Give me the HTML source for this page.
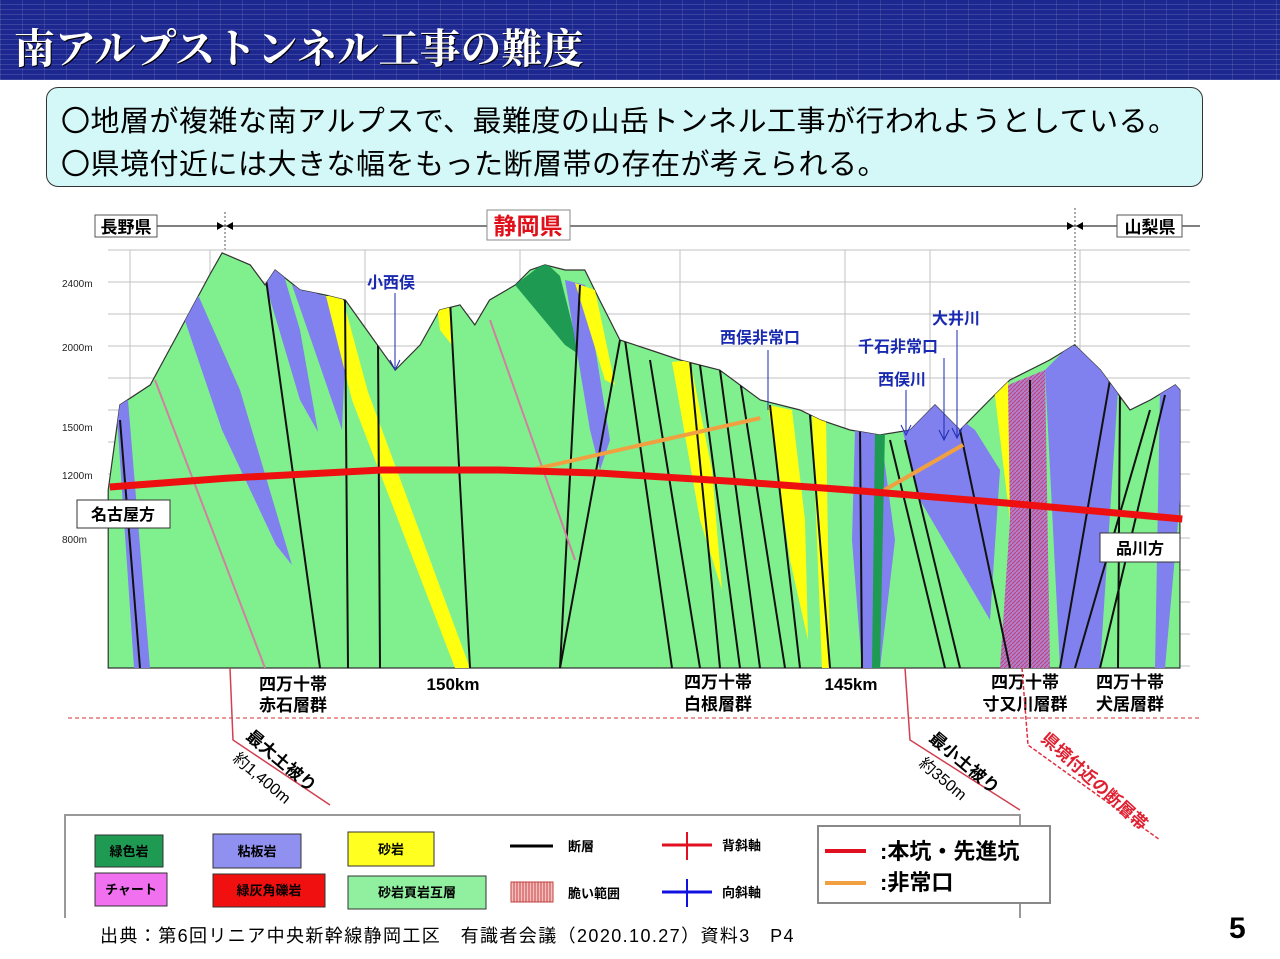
<!DOCTYPE html>
<html><head><meta charset="utf-8">
<style>
body{margin:0;width:1280px;height:959px;background:#fff;overflow:hidden;position:relative;font-family:"Liberation Sans","Noto Sans CJK JP",sans-serif;}
#hdr{position:absolute;left:0;top:0;width:1280px;height:80px;background:#1d2790;
background-image:repeating-linear-gradient(0deg,rgba(255,255,255,.13) 0 1px,transparent 1px 5px),repeating-linear-gradient(90deg,rgba(255,255,255,.10) 0 1px,transparent 1px 22px);}
#hdr h1{margin:0;position:absolute;left:14px;top:16px;font:bold 41px "Liberation Serif","Noto Serif CJK SC",serif;color:#fff;letter-spacing:0px;text-shadow:1px 1px 0 #000;}
#box{position:absolute;left:46px;top:87px;width:1155px;height:98px;border:1.5px solid #333;border-radius:12px;background:#d4f8f8;}
#box div{position:absolute;left:14px;font-size:29px;letter-spacing:0.5px;color:#000;white-space:nowrap;}
svg{position:absolute;left:0;top:0;}
#foot{position:absolute;left:100px;top:922px;font-size:18px;letter-spacing:1.4px;}
#pg{position:absolute;left:1229px;top:912px;font-size:30px;font-weight:bold;}
</style></head><body>
<div id="hdr"><h1>南アルプストンネル工事の難度</h1></div>
<div id="box">
<div style="top:10px">〇地層が複雑な南アルプスで、最難度の山岳トンネル工事が行われようとしている。</div>
<div style="top:53px">〇県境付近には大きな幅をもった断層帯の存在が考えられる。</div>
</div>
<svg width="1280" height="959" id="chart" font-family="Liberation Sans, Noto Sans CJK JP, sans-serif">
<defs>
<clipPath id="terrClip"><path id="clipPath1" d=""/></clipPath>
<pattern id="hatch" width="4" height="4" patternUnits="userSpaceOnUse"><rect width="4" height="4" fill="#b080d0"/><path d="M0 4L4 0" stroke="#c04070" stroke-width="1"/></pattern>
<pattern id="hatchL" width="6" height="6" patternUnits="userSpaceOnUse"><rect width="6" height="6" fill="#f0c0c0"/><path d="M1 0V6M4 0V6" stroke="#d04040" stroke-width="1"/></pattern>
</defs>
<g>
<line x1="157" y1="226" x2="487" y2="226" stroke="#000"/>
<line x1="570" y1="226" x2="1117" y2="226" stroke="#000"/>
<line x1="1182" y1="226" x2="1200" y2="226" stroke="#000"/>
<rect x="95" y="215" width="62" height="22" fill="#fff" stroke="#555"/>
<text x="126" y="233" font-size="17" font-weight="bold" text-anchor="middle">長野県</text>
<rect x="487" y="210" width="83" height="30" fill="#fff" stroke="#888"/>
<text x="528" y="234" font-size="23" font-weight="bold" fill="#e0101a" text-anchor="middle">静岡県</text>
<rect x="1117" y="215" width="65" height="22" fill="#fff" stroke="#555"/>
<text x="1150" y="233" font-size="17" font-weight="bold" text-anchor="middle">山梨県</text>
<path d="M217 222L224 226L217 230ZM233 222L226 226L233 230Z" fill="#000"/>
<line x1="225" y1="212" x2="225" y2="252" stroke="#555" stroke-dasharray="2,2"/>
<path d="M1067 222L1074 226L1067 230ZM1083 222L1076 226L1083 230Z" fill="#000"/>
<line x1="1075" y1="208" x2="1075" y2="345" stroke="#555" stroke-dasharray="2,2"/>
</g>
<g id="grid" stroke="#c0c0c0" stroke-width="1"></g>
<g id="ylabels" font-size="10" fill="#222"></g>
<path id="terrain" fill="#80f08e" stroke="#333" stroke-width="1.2" d=""/>
<g clip-path="url(#terrClip)">
<polygon fill="#8080ee" points="116,402 128,400 150,668 134,668"/>
<polygon fill="#8080ee" points="178,300 195,288 240,390 292,565 276,545 222,430"/>
<polygon fill="#8080ee" points="262,272 280,262 300,330 318,432 300,400"/>
<polygon fill="#8080ee" points="292,285 330,298 345,360 342,430 318,360"/>
<polygon fill="#ffff10" points="326,296 342,296 368,392 470,668 455,668 352,400"/>
<polygon fill="#ffff10" points="436,300 450,300 452,345 440,330"/>
<polygon fill="#1e9a52" points="515,285 545,262 560,276 580,355 565,345"/>
<polygon fill="#8080ee" points="565,280 585,285 610,440 600,470 590,430"/>
<polygon fill="#ffff10" points="575,283 595,290 615,385 605,380"/>
<polygon fill="#ffff10" points="672,362 690,360 712,470 722,590 700,520"/>
<polygon fill="#ffff10" points="768,405 792,410 805,520 808,640 790,560"/>
<polygon fill="#ffff10" points="812,415 826,420 830,668 822,668"/>
<polygon fill="#8080ee" points="855,430 880,428 895,540 880,668 862,668 852,540"/>
<polygon fill="#1e9a52" points="875,430 885,430 880,668 872,668"/>
<polygon fill="#8080ee" points="900,420 935,400 975,430 1000,470 990,620 955,560 920,500"/>
<polygon fill="#ffff10" points="993,380 1008,380 1020,520 1010,520"/>
<polygon fill="url(#hatch)" points="1008,385 1045,370 1050,668 1000,668 1010,520"/>
<polygon fill="#8080ee" points="1045,370 1070,345 1090,350 1118,390 1100,668 1060,668"/>
<polygon fill="#8080ee" points="1160,390 1180,380 1180,500 1165,668 1155,668"/>
<g stroke="#111" stroke-width="2" fill="none">
<line x1="120" y1="420" x2="140" y2="668"/><line x1="265" y1="272" x2="320" y2="668"/>
<line x1="345" y1="300" x2="348" y2="668"/><line x1="378" y1="340" x2="380" y2="668"/>
<line x1="450" y1="300" x2="470" y2="668"/><line x1="580" y1="285" x2="560" y2="668"/>
<line x1="620" y1="340" x2="560" y2="668"/><line x1="625" y1="340" x2="672" y2="668"/>
<line x1="650" y1="360" x2="700" y2="668"/><line x1="690" y1="360" x2="720" y2="668"/>
<line x1="700" y1="365" x2="740" y2="668"/><line x1="720" y1="370" x2="760" y2="668"/>
<line x1="740" y1="380" x2="785" y2="668"/><line x1="770" y1="405" x2="800" y2="668"/>
<line x1="810" y1="415" x2="830" y2="668"/><line x1="860" y1="430" x2="862" y2="668"/>
<line x1="890" y1="440" x2="945" y2="668"/><line x1="905" y1="440" x2="960" y2="668"/>
<line x1="960" y1="430" x2="1010" y2="668"/><line x1="1030" y1="380" x2="1030" y2="668"/>
<line x1="1110" y1="380" x2="1060" y2="668"/><line x1="1120" y1="390" x2="1118" y2="668"/>
<line x1="1150" y1="410" x2="1075" y2="668"/><line x1="1165" y1="395" x2="1100" y2="668"/>
</g>
<g stroke="#d080a0" stroke-width="2" fill="none"><line x1="490" y1="320" x2="575" y2="560"/><line x1="155" y1="380" x2="265" y2="668"/></g>
</g>
<g id="tunnels"></g>
<g font-weight="bold" fill="#1a2ab0" font-size="16">
<text x="367" y="288">小西俣</text><line x1="395" y1="293" x2="395" y2="368" stroke="#1a2ab0"/><path d="M390 360L395 370L400 360" stroke="#1a2ab0" fill="none"/>
<text x="720" y="343">西俣非常口</text><line x1="768" y1="350" x2="768" y2="410" stroke="#1a2ab0"/>
<text x="858" y="352">千石非常口</text><line x1="944" y1="358" x2="944" y2="438" stroke="#1a2ab0"/><path d="M939 430L944 440L949 430" stroke="#1a2ab0" fill="none"/>
<text x="878" y="385">西俣川</text><line x1="906" y1="390" x2="906" y2="432" stroke="#1a2ab0"/><path d="M901 425L906 435L911 425" stroke="#1a2ab0" fill="none"/>
<text x="932" y="324">大井川</text><line x1="957" y1="330" x2="957" y2="436" stroke="#1a2ab0"/><path d="M952 428L957 438L962 428" stroke="#1a2ab0" fill="none"/>
</g>
<g font-weight="bold" font-size="16">
<rect x="77" y="500" width="93" height="28" fill="#fff" stroke="#333"/><text x="123" y="520" text-anchor="middle">名古屋方</text>
<rect x="1100" y="533" width="80" height="29" fill="#fff" stroke="#333"/><text x="1140" y="554" text-anchor="middle">品川方</text>
</g>
<g font-weight="bold" font-size="17" text-anchor="middle">
<text x="293" y="690">四万十帯</text><text x="293" y="711">赤石層群</text>
<text x="453" y="690">150km</text>
<text x="718" y="688">四万十帯</text><text x="718" y="710">白根層群</text>
<text x="851" y="690">145km</text>
<text x="1025" y="688">四万十帯</text><text x="1025" y="710">寸又川層群</text>
<text x="1130" y="688">四万十帯</text><text x="1130" y="710">犬居層群</text>
</g>
<line x1="68" y1="718" x2="1200" y2="718" stroke="#d03030" stroke-dasharray="4,3"/>
<g>
<polyline points="230,668 233,740 330,805" fill="none" stroke="#d04050" stroke-width="1.5"/>
<text transform="translate(245,738) rotate(40)" font-size="17" font-weight="bold">最大土被り</text>
<text transform="translate(232,760) rotate(40)" font-size="16">約1,400m</text>
<polyline points="905,668 910,740 1020,810" fill="none" stroke="#d04050" stroke-width="1.5"/>
<text transform="translate(928,740) rotate(40)" font-size="17" font-weight="bold">最小土被り</text>
<text transform="translate(918,765) rotate(40)" font-size="16">約350m</text>
<polyline points="1022,668 1028,745 1160,840" fill="none" stroke="#e03040" stroke-width="1.5" stroke-dasharray="4,2"/>
<text transform="translate(1040,740) rotate(42)" font-size="17" font-weight="bold" fill="#e02030">県境付近の断層帯</text>
</g>
<g font-weight="bold" font-size="13">
<polyline points="65,918 65,815 1020,815 1020,918" fill="none" stroke="#999" stroke-width="2"/>
<rect x="95" y="835" width="68" height="32" fill="#1e9a52" stroke="#333"/><text x="129" y="856" text-anchor="middle">緑色岩</text>
<rect x="213" y="834" width="88" height="34" fill="#9090f0" stroke="#333"/><text x="257" y="856" text-anchor="middle">粘板岩</text>
<rect x="348" y="832" width="86" height="34" fill="#ffff20" stroke="#333"/><text x="391" y="854" text-anchor="middle">砂岩</text>
<rect x="95" y="873" width="72" height="33" fill="#f070f0" stroke="#333"/><text x="131" y="894" text-anchor="middle">チャート</text>
<rect x="213" y="874" width="112" height="33" fill="#f01010" stroke="#333"/><text x="269" y="895" text-anchor="middle">緑灰角礫岩</text>
<rect x="348" y="876" width="138" height="33" fill="#90f0a0" stroke="#333"/><text x="417" y="897" text-anchor="middle">砂岩頁岩互層</text>
<line x1="510" y1="846" x2="553" y2="846" stroke="#000" stroke-width="3"/><text x="568" y="851">断層</text>
<rect x="511" y="882" width="42" height="20" fill="url(#hatchL)" stroke="#c04040"/><text x="568" y="898">脆い範囲</text>
<line x1="662" y1="845" x2="712" y2="845" stroke="#e01020" stroke-width="3"/><line x1="687" y1="832" x2="687" y2="860" stroke="#e01020" stroke-width="2"/><text x="722" y="850">背斜軸</text>
<line x1="662" y1="892" x2="712" y2="892" stroke="#1010e0" stroke-width="3"/><line x1="687" y1="879" x2="687" y2="907" stroke="#1010e0" stroke-width="2"/><text x="722" y="897">向斜軸</text>
<rect x="818" y="826" width="232" height="77" fill="#fff" stroke="#888" stroke-width="2"/>
<line x1="825" y1="851" x2="866" y2="851" stroke="#e01020" stroke-width="4"/><text x="880" y="859" font-size="22">:本坑・先進坑</text>
<line x1="825" y1="883" x2="866" y2="883" stroke="#f0a040" stroke-width="4"/><text x="880" y="890" font-size="22">:非常口</text>
</g>
</svg>
<div id="foot">出典：第6回リニア中央新幹線静岡工区　有識者会議（2020.10.27）資料3　P4</div>
<div id="pg">5</div>
<script>
const terrainKm=[154.51,154.36,153.97,153.59,153.21,153.05,152.69,152.50,152.37,152.05,151.73,151.47,151.15,150.83,150.51,150.26,150.00,149.81,149.62,149.29,149.10,148.91,148.65,148.40,148.21,147.95,147.56,147.18,146.67,146.15,145.64,145.38,145.00,144.62,144.23,143.91,143.59,143.21,142.95,142.44,142.12,141.79,141.41,141.15,140.83,140.77];
const terrainElev=[1106,1638,1763,2106,2450,2588,2513,2388,2481,2356,2325,2294,2075,1856,2013,2231,2263,2138,2294,2388,2481,2513,2481,2481,2294,2044,1981,1919,1856,1669,1606,1544,1481,1450,1481,1638,1481,1669,1794,1919,2013,1856,1606,1669,1763,1731];
const tunnelKm=[154.49,153.0,151.0,149.5,148.2,146.5,145.0,143.0,140.74];
const tunnelElev=[1125,1180,1231,1231,1212,1160,1106,1025,925];
const exitKm=[[149.1,146.15],[144.56,143.55]];
const exitElev=[[1231,1556],[1106,1388]];
const yTicks=[2400,2000,1500,1200,800];
const yTickLabels=["2400m","2000m","1500m","1200m","800m"];
const NS="http://www.w3.org/2000/svg";
function xOf(km){return 460+(150-km)*78;}
function yOf(e){return 283+(2400-e)*0.16;}
const bottom=668;
let d="M"+xOf(terrainKm[0])+" "+bottom;
terrainKm.forEach((k,i)=>{d+=" L"+xOf(k).toFixed(1)+" "+yOf(terrainElev[i]).toFixed(1);});
d+=" L"+xOf(terrainKm[terrainKm.length-1])+" "+bottom+" Z";
document.getElementById('terrain').setAttribute('d',d);
document.getElementById('clipPath1').setAttribute('d',d);
const grid=document.getElementById('grid');
for(let y=250;y<=668;y+=32){const l=document.createElementNS(NS,'line');


l.setAttribute('x1',108);l.setAttribute('x2',1190);l.setAttribute('y1',y);l.setAttribute('y2',y);grid.appendChild(l);}
[130,210,365,520,680,845,930,1080].forEach(x=>{const l=document.createElementNS(NS,'line');


l.setAttribute('x1',x);l.setAttribute('x2',x);l.setAttribute('y1',250);l.setAttribute('y2',668);grid.appendChild(l);});
const yl=document.getElementById('ylabels');
yTicks.forEach((t,i)=>{const tx=document.createElementNS(NS,'text');


tx.setAttribute('x',62);tx.setAttribute('y',yOf(t)+4);tx.textContent=yTickLabels[i];yl.appendChild(tx);});
const tg=document.getElementById('tunnels');
exitKm.forEach((ks,i)=>{const l=document.createElementNS(NS,'line');


l.setAttribute('x1',xOf(ks[0]));l.setAttribute('y1',yOf(exitElev[i][0]));l.setAttribute('x2',xOf(ks[1]));l.setAttribute('y2',yOf(exitElev[i][1]));
l.setAttribute('stroke','#f0a040');l.setAttribute('stroke-width',4);tg.appendChild(l);});
const pl=document.createElementNS(NS,'polyline');


pl.setAttribute('points',tunnelKm.map((k,i)=>xOf(k).toFixed(1)+","+yOf(tunnelElev[i]).toFixed(1)).join(" "));
pl.setAttribute('fill','none');pl.setAttribute('stroke','#ee1010');pl.setAttribute('stroke-width',7);
tg.appendChild(pl);
</script>
</body></html>
